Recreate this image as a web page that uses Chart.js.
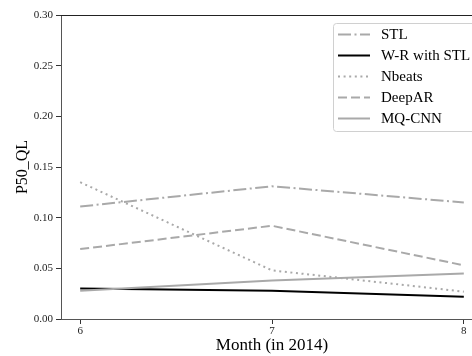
<!DOCTYPE html>
<html><head><meta charset="utf-8">
<script src="https://cdn.jsdelivr.net/npm/chart.js@4.4.1/dist/chart.umd.min.js"></script>
<style>
html,body{margin:0;padding:0;background:#fff;overflow:hidden}
#wrap{width:472px;height:356px;overflow:hidden;position:relative}
canvas{display:block}
</style></head>
<body><div id="wrap"><canvas id="c" width="500" height="356" style="width:500px;height:356px"></canvas></div>
<script>
const months = [6, 7, 8];
const seriesNames = ['STL', 'W-R with STL', 'Nbeats', 'DeepAR', 'MQ-CNN'];
const stl = [0.111, 0.131, 0.115];
const wrStl = [0.030, 0.028, 0.022];
const nbeats = [0.135, 0.048, 0.027];
const deepar = [0.069, 0.092, 0.053];
const mqcnn = [0.028, 0.038, 0.045];
const yTicks = [0, 0.05, 0.10, 0.15, 0.20, 0.25, 0.30];
const xLabel = 'Month (in 2014)';
const yLabel = 'P50_QL';

const seriesValues = [stl, wrStl, nbeats, deepar, mqcnn];
const GRAY = '#a9a9a9';
const styles = [
  {color: GRAY, dash: [13, 3.5, 2, 3.5]},
  {color: '#000000', dash: []},
  {color: GRAY, dash: [2, 3.6]},
  {color: GRAY, dash: [9, 4]},
  {color: GRAY, dash: []}
];
const SERIF = "'Liberation Serif', 'DejaVu Serif', serif";

const datasets = seriesNames.map((name, i) => ({
  label: name,
  data: months.map((m, j) => ({x: m, y: seriesValues[i][j]})),
  borderColor: styles[i].color,
  borderDash: styles[i].dash,
  borderWidth: 2,
  pointRadius: 0,
  fill: false,
  tension: 0,
  order: seriesNames.length - i
}));

const legendPlugin = {
  id: 'boxLegend',
  afterDatasetsDraw(chart) {
    const ctx = chart.ctx;
    const a = chart.chartArea;
    // top spine
    ctx.save();
    ctx.strokeStyle = '#222';
    ctx.lineWidth = 1;
    ctx.beginPath();
    ctx.moveTo(a.left, a.top + 0.5);
    ctx.lineTo(a.right, a.top + 0.5);
    ctx.stroke();
    // legend box
    const bx = 333.5, by = 23.5, bw = a.right - 7 - bx, bh = 108;
    ctx.fillStyle = 'rgba(255,255,255,0.8)';
    ctx.strokeStyle = '#d0d0d0';
    ctx.lineWidth = 1;
    ctx.beginPath();
    if (ctx.roundRect) ctx.roundRect(bx, by, bw, bh, 3); else ctx.rect(bx, by, bw, bh);
    ctx.fill();
    ctx.stroke();
    ctx.font = "15px " + SERIF;
    ctx.textBaseline = 'middle';
    ctx.textAlign = 'left';
    chart.data.datasets.forEach((ds, i) => {
      const y = 34.5 + i * 21;
      ctx.strokeStyle = ds.borderColor;
      ctx.lineWidth = ds.borderWidth;
      ctx.setLineDash(ds.borderDash || []);
      ctx.beginPath();
      ctx.moveTo(338, y);
      ctx.lineTo(370, y);
      ctx.stroke();
      ctx.setLineDash([]);
      ctx.fillStyle = '#000';
      ctx.fillText(ds.label, 381, y + 1);
    });
    ctx.restore();
  }
};

new Chart(document.getElementById('c'), {
  type: 'line',
  data: {datasets},
  options: {
    responsive: false,
    animation: false,
    devicePixelRatio: 1,
    layout: {padding: {top: 15, right: 17, bottom: 0, left: 0}},
    plugins: {legend: {display: false}, tooltip: {enabled: false}},
    scales: {
      x: {
        type: 'linear',
        min: 5.9, max: 8.1,
        afterBuildTicks: s => { s.ticks = months.map(v => ({value: v})); },
        afterFit: s => { s.height = 37; },
        ticks: {font: {family: SERIF, size: 11}, color: '#222', padding: 1,
                callback: v => String(v), maxRotation: 0, autoSkip: false},
        grid: {drawOnChartArea: false, drawTicks: true, tickLength: 5, color: '#333'},
        border: {display: true, color: '#555', width: 1},
        title: {display: true, text: xLabel, font: {family: SERIF, size: 17}, color: '#000',
                padding: {top: 0, bottom: 0}}
      },
      y: {
        type: 'linear',
        min: 0, max: 0.3,
        afterBuildTicks: s => { s.ticks = yTicks.map(v => ({value: v})); },
        afterFit: s => { s.width = 61; },
        ticks: {font: {family: SERIF, size: 11}, color: '#222', padding: 3,
                callback: v => v.toFixed(2)},
        grid: {drawOnChartArea: false, drawTicks: true, tickLength: 5, color: '#333'},
        border: {display: true, color: '#555', width: 1},
        title: {display: true, text: yLabel, font: {family: SERIF, size: 16}, color: '#000',
                padding: {top: 13, bottom: 0}}
      }
    }
  },
  plugins: [legendPlugin]
});
</script>
</body></html>
